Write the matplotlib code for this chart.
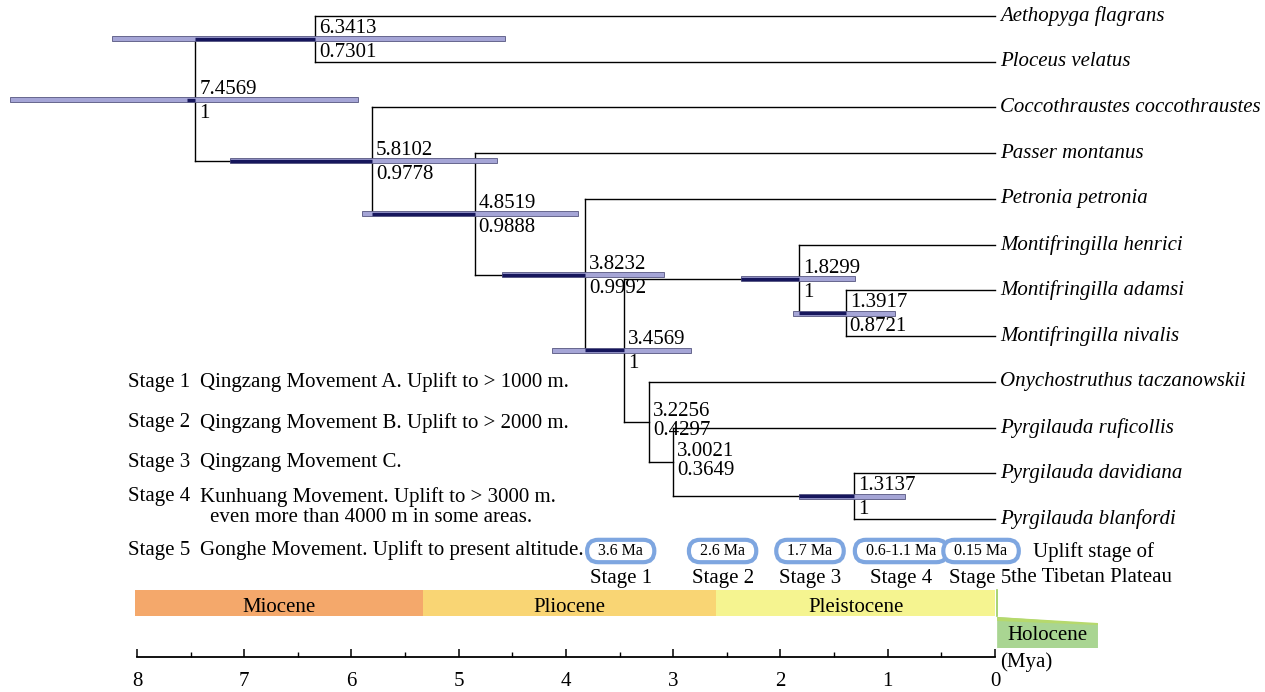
import numpy as np
import matplotlib
matplotlib.use("Agg")
import matplotlib.pyplot as plt

plt.rcParams['font.family'] = ['Liberation Serif', 'DejaVu Serif']

# Tips, top to bottom
tips = ['Aethopyga flagrans', 'Ploceus velatus', 'Coccothraustes coccothraustes',
        'Passer montanus', 'Petronia petronia', 'Montifringilla henrici',
        'Montifringilla adamsi', 'Montifringilla nivalis', 'Onychostruthus taczanowskii',
        'Pyrgilauda ruficollis', 'Pyrgilauda davidiana', 'Pyrgilauda blanfordi']

# Internal nodes (node 0 = root). Children are node indices or tip names.
node_age = [7.4569, 6.3413, 5.8102, 4.8519, 3.8232, 3.4569, 1.8299, 1.3917, 3.2256, 3.0021, 1.3137]
node_post = ['1', '0.7301', '0.9778', '0.9888', '0.9992', '1', '1', '0.8721', '0.4297', '0.3649', '1']
hpd_old = [9.18, 8.23, 7.13, 5.90, 4.60, 4.13, 2.37, 1.88, None, None, 1.83]
hpd_young = [5.94, 4.57, 4.64, 3.89, 3.09, 2.83, 1.31, 0.93, None, None, 0.84]
children = [(1, 2),
            ('Aethopyga flagrans', 'Ploceus velatus'),
            ('Coccothraustes coccothraustes', 3),
            ('Passer montanus', 4),
            ('Petronia petronia', 5),
            (6, 8),
            ('Montifringilla henrici', 7),
            ('Montifringilla adamsi', 'Montifringilla nivalis'),
            ('Onychostruthus taczanowskii', 9),
            ('Pyrgilauda ruficollis', 10),
            ('Pyrgilauda davidiana', 'Pyrgilauda blanfordi')]

# Geological epochs
epochs = ['Miocene', 'Pliocene', 'Pleistocene']
epoch_old = [8.02, 5.333, 2.60]
epoch_young = [5.333, 2.60, 0.0]
epoch_colors = ['#f4a86b', '#f9d574', '#f5f490']

# Uplift stages of the Tibetan Plateau
stage_ma = ['3.6 Ma', '2.6 Ma', '1.7 Ma', '0.6-1.1 Ma', '0.15 Ma']
stage_pos = [3.49, 2.54, 1.725, 0.875, 0.13]
stage_desc = ['Qingzang Movement A. Uplift to > 1000 m.',
              'Qingzang Movement B. Uplift to > 2000 m.',
              'Qingzang Movement C.',
              'Kunhuang Movement. Uplift to > 3000 m.',
              'Gonghe Movement. Uplift to present altitude.']

PX = 1 / 45.73      # one pixel in y units (tip spacing = 1)
XPX = 1 / 107.25    # one pixel in age units

fig = plt.figure(figsize=(12.65, 6.92), dpi=100)
ax = fig.add_axes([0, 0, 1, 1])
ax.set_xlim(995 * XPX, -270 * XPX)
ax.set_ylim(676 * PX, -16 * PX)

# y position of every node / tip
ypos = {t: i for i, t in enumerate(tips)}


def node_y(n):
    if isinstance(n, str):
        return ypos[n]
    a, b = children[n]
    return (node_y(a) + node_y(b)) / 2


def age(n):
    return 0.0 if isinstance(n, str) else node_age[n]


dark = '#16165c'
for n in range(len(node_age)):
    x = node_age[n]
    ys = [node_y(c) for c in children[n]]
    ax.plot([x, x], [min(ys), max(ys)], color='black', lw=1.0, zorder=1)
    for c in children[n]:
        ax.plot([x, age(c)], [node_y(c)] * 2, color='black', lw=1.0, zorder=1)
        if not isinstance(c, str) and hpd_old[c] is not None:
            ax.plot([min(x, hpd_old[c]), age(c)], [node_y(c)] * 2,
                    color=dark, lw=2.4, zorder=3, solid_capstyle='butt')

# HPD bars
for n in range(len(node_age)):
    if hpd_old[n] is None:
        continue
    ax.barh(node_y(n), hpd_old[n] - hpd_young[n], left=hpd_young[n], height=5 * PX,
            color='#a5a5d6', edgecolor='#55557f', lw=0.6, zorder=2)
ax.plot([node_age[0] + 8 * XPX, node_age[0]], [node_y(0)] * 2, color=dark, lw=2.4,
        zorder=3, solid_capstyle='butt')

# node labels
for n in range(len(node_age)):
    y = node_y(n)
    x = node_age[n] - 4 * XPX
    ax.text(x, y - 6 * PX, f'{node_age[n]:.4f}', fontsize=15, ha='left', va='baseline', zorder=4)
    off = 4 * PX if hpd_old[n] is not None else -1 * PX
    ax.text(x, y + off, node_post[n], fontsize=15, ha='left', va='top', zorder=4)

# tip labels
for t in tips:
    ax.text(-5 * XPX, ypos[t], t, fontsize=15, style='italic', ha='left', va='center')

# stage descriptions on the left
desc_y = [382, 423, 462, 497, 550]
for i, d in enumerate(stage_desc):
    ax.text(867 * XPX, (desc_y[i] - 16) * PX, f'Stage {i + 1}', fontsize=15, ha='left', va='center')
    ax.text(795 * XPX, (desc_y[i] - 16) * PX, d, fontsize=15, ha='left', va='center')
ax.text(785 * XPX, (518 - 16) * PX, 'even more than 4000 m in some areas.', fontsize=15,
        ha='left', va='center')

# stage boxes
for i, (lab, x) in enumerate(zip(stage_ma, stage_pos)):
    ax.text(x, (551 - 16) * PX, '  ' + lab + '  ', fontsize=11.5, ha='center', va='center',
            bbox=dict(boxstyle='round,pad=0.2,rounding_size=0.7', fc='white',
                      ec='#7ea6e0', lw=3))
    ax.text(x if i < 4 else 0.14, (578 - 16) * PX, f'Stage {i + 1}', fontsize=15,
            ha='center', va='center')
ax.text(-38 * XPX, (552 - 16) * PX, 'Uplift stage of', fontsize=15, ha='left', va='center')
ax.text(-16 * XPX, (578 - 16) * PX, 'the Tibetan Plateau', fontsize=15, ha='left', va='center')

# epochs
band_top, band_bot = (590 - 16) * PX, (616 - 16) * PX
for name, o, yng, c in zip(epochs, epoch_old, epoch_young, epoch_colors):
    ax.barh((band_top + band_bot) / 2, o - yng, left=yng, height=band_bot - band_top,
            color=c, lw=0)
    ax.text((o + yng) / 2, (band_top + band_bot) / 2 + 5 * PX, name, fontsize=15,
            ha='center', va='center')
ax.plot([-0.02, -0.02], [band_top, band_bot], color='#9acd5a', lw=1.2)
holo_r = -0.96
ax.fill([-0.02, holo_r, holo_r, -0.02],
        [band_bot + 1 * PX, band_bot + 8 * PX, (648 - 16) * PX, (648 - 16) * PX],
        color='#a9d592', lw=0)
ax.fill([-0.02, holo_r, holo_r, -0.02],
        [band_bot + 1 * PX, band_bot + 7 * PX, band_bot + 9 * PX, band_bot + 5 * PX],
        color='#b6d96c', lw=0)
ax.text((holo_r - 0.02) / 2, (636 - 16) * PX, 'Holocene', fontsize=15, ha='center', va='center')

# time axis
for s in ['top', 'left', 'right']:
    ax.spines[s].set_visible(False)
ax.spines['bottom'].set_position(('data', (657 - 16) * PX))
ax.spines['bottom'].set_bounds(0, 8)
ax.spines['bottom'].set_linewidth(1.3)
ax.set_xticks(range(9))
ax.set_xticks(np.arange(0.5, 8, 1), minor=True)
ax.tick_params(axis='x', which='major', direction='in', length=6, width=1.1, labelsize=15, pad=11)
ax.tick_params(axis='x', which='minor', direction='in', length=3.5, width=1.0)
ax.set_yticks([])
ax.text(-5 * XPX, (662 - 16) * PX, '(Mya)', fontsize=15, ha='left', va='center')

fig.savefig('out.png', dpi=100)
